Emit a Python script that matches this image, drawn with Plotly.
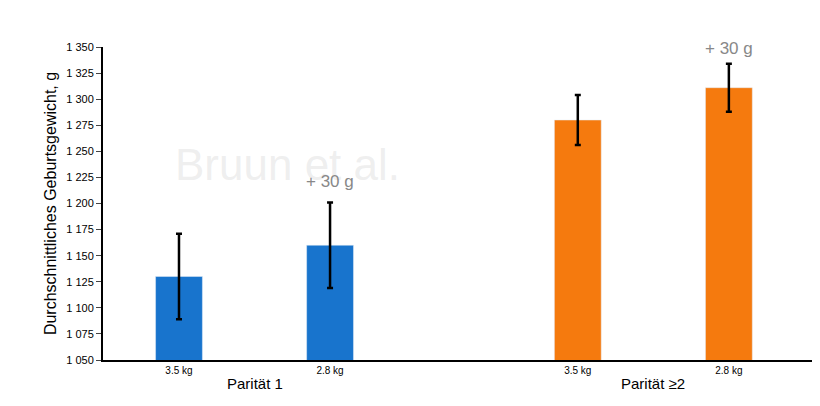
import plotly.graph_objects as go

# Balkenpositionen und Werte
positions = [1, 2, 3.64, 4.64]
labels = ["3.5 kg", "2.8 kg", "3.5 kg", "2.8 kg"]
values = [1130, 1160, 1280, 1311]
errors = [41, 41, 24, 23]
colors = ["#1874CD", "#1874CD", "#F57A0E", "#F57A0E"]

fig = go.Figure()
fig.add_bar(x=positions, y=values, width=0.31, marker_color=colors,
            error_y=dict(type="data", array=errors, color="black", thickness=2.5, width=3))

fig.add_annotation(x=1.72, y=1237, text="Bruun et al.", showarrow=False,
                   font=dict(size=44, color="rgba(200,200,200,0.3)"))
fig.add_annotation(x=1.5, y=1352, text="P = 0,031", showarrow=False, yanchor="bottom",
                   font=dict(size=11, color="black"))
fig.add_annotation(x=2, y=1210, text="+ 30 g", showarrow=False, yanchor="bottom",
                   font=dict(size=17, color="#888888"))
fig.add_annotation(x=4.64, y=1338, text="+ 30 g", showarrow=False, yanchor="bottom",
                   font=dict(size=17, color="#888888"))
fig.add_annotation(x=1.5, y=-0.11, yref="paper", text="Parität 1", showarrow=False,
                   font=dict(size=15, color="black"))
fig.add_annotation(x=4.14, y=-0.11, yref="paper", text="Parität ≥2", showarrow=False,
                   font=dict(size=15, color="black"))

fig.update_layout(
    width=820, height=406, plot_bgcolor="white", paper_bgcolor="white",
    margin=dict(l=95, r=10, t=39, b=54), showlegend=False, separators=", ",
    font=dict(family="Liberation Sans, Arial", color="black"),
    xaxis=dict(range=[0.497, 5.23], tickvals=positions, ticktext=labels, showline=True,
               linecolor="black", linewidth=2, ticks="", tickfont=dict(size=10), showgrid=False),
    yaxis=dict(range=[1050, 1350], dtick=25, tickformat=",d", showline=True, linecolor="black",
               linewidth=2, ticks="outside", ticklen=5, tickfont=dict(size=11), showgrid=False,
               title=dict(text="Durchschnittliches Geburtsgewicht, g", font=dict(size=16), standoff=6)),
)

fig.write_html("out.html")
